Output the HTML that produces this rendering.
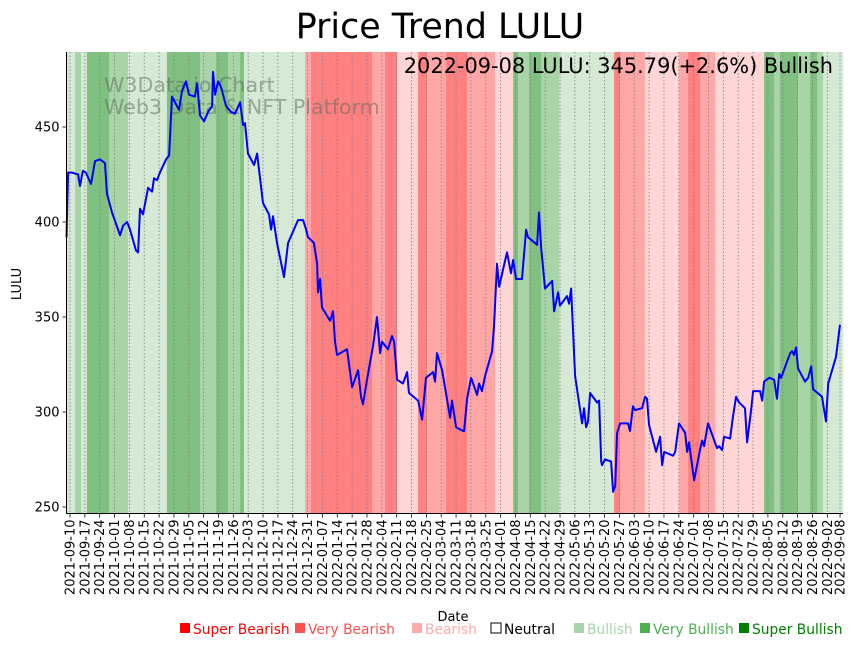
<!DOCTYPE html>
<html><head><meta charset="utf-8"><style>
body{margin:0;background:#fff;width:859px;height:646px;overflow:hidden;font-family:"Liberation Sans","DejaVu Sans",sans-serif}
svg{display:block}
</style></head><body>
<svg id="chart" width="859" height="646" viewBox="0 0 859 646" xmlns="http://www.w3.org/2000/svg" font-family="DejaVu Sans, Liberation Sans, sans-serif">
<g id="bands"></g>
<g id="grid"></g>
<g id="watermark" fill="#556655" fill-opacity="0.5" font-size="20.6">
<text x="104" y="92">W3Data.io Chart</text>
<text x="104" y="114">Web3 Data &amp; NFT Platform</text>
</g>
<path id="line" fill="none" stroke="#0000ff" stroke-width="2" stroke-linejoin="round"></path>
<g id="axes"></g>
<text x="440" y="38" text-anchor="middle" font-size="34.8">Price Trend LULU</text>
<text x="833" y="73" text-anchor="end" font-size="20.9">2022-09-08 LULU: 345.79(+2.6%) Bullish</text>
<text transform="translate(21,284) rotate(-90)" text-anchor="middle" font-size="13">LULU</text>
<text x="453" y="621" text-anchor="middle" font-size="13">Date</text>
<g id="legend" font-size="13.8"></g>
</svg>
<script>
// price series: day offset from 2021-09-10, price
const days=[-1.9,-0.9,0.9,3.8,4.7,6.1,7.5,9.9,11.8,14.1,16.5,17.4,19.8,23.6,25.0,26.9,28.3,31.1,32.1,33.0,34.4,36.8,38.7,39.6,41.0,42.4,45.3,46.7,48.1,51.4,52.8,54.7,56.1,58.9,59.9,61.3,63.2,65.1,67.0,67.4,68.4,69.8,71.2,73.6,75.9,77.8,80.2,81.6,82.5,83.9,86.8,88.2,91.0,93.8,94.8,95.7,97.6,100.9,102.8,107.5,109.9,111.3,112.2,115.0,116.5,116.9,117.9,118.8,122.6,124.0,124.9,125.9,130.6,133.0,135.8,137.2,138.1,140.0,142.9,144.7,146.2,147.1,149.9,151.8,152.8,154.2,157.0,158.9,159.8,164.1,166.0,167.8,171.1,172.1,173.0,175.4,179.2,180.1,182.0,185.3,185.8,187.2,189.1,191.9,192.8,194.2,195.7,199.0,199.9,201.3,202.3,206.0,207.9,208.9,210.3,213.1,215.0,215.9,220.2,221.1,222.1,223.9,227.3,228.2,230.1,231.0,234.3,235.3,236.2,238.1,241.4,242.3,243.3,244.2,245.2,248.5,249.4,250.4,250.8,252.2,255.1,256.0,257.0,257.9,259.3,263.1,264.0,265.4,266.4,269.7,271.1,272.0,273.0,276.3,278.2,279.1,280.1,284.3,285.3,287.1,290.0,290.9,291.8,294.2,297.0,298.0,298.9,300.3,300.8,305.0,306.0,307.4,308.3,311.2,312.6,314.0,315.4,318.2,319.2,321.1,322.0,325.3,326.3,327.2,329.6,331.9,333.3,334.3,335.2,339.5,340.4,341.3,342.3,343.2,346.5,348.0,349.4,350.3,354.5,356.4,357.4,361.1,363.0];
const prices=[392,426,426,425,419,427,426,420,432,433,431,415,405,393,398,400,396,385,384,407,404,418,416,423,422,426,433,435,466,459,469,474,467,466,473,456,453,458,461,479,467,474,471,461,458,457,463,451,452,436,430,436,410,404,396,403,389,371,389,401,401,396,392,389,378,363,370,355,348,353,337,330,333,313,322,308,304,317,335,350,331,337,333,340,337,317,315,321,310,306,296,318,321,316,331,322,297,306,292,290,290,307,318,309,315,311,319,332,345,378,366,384,373,380,370,370,396,392,388,405,387,365,369,353,363,356,361,357,365,319,294,302,292,295,310,305,306,274,272,275,274,258,261,289,294,294,290,303,301,302,308,307,293,279,287,272,279,277,279,294,289,279,284,264,280,285,282,291,294,281,282,280,287,286,298,308,305,302,284,301,311,311,306,316,318,317,307,320,318,331,332,330,334,323,316,318,324,312,308,295,315,329,346];
// sentiment bands: boundaries (day offsets) and level per band
const bandEdges=[-1.9,2.4,5.2,8.0,18.4,27.3,45.7,61.3,68.8,74.5,80.2,82.0,110.8,113.6,142.4,148.5,154.2,164.1,168.3,177.3,187.2,200.4,208.9,211.2,216.4,222.1,230.6,256.5,259.3,271.1,287.1,291.4,297.0,304.1,327.2,331.9,334.7,343.2,348.9,352.2,355.0,364.4];
const bandLevels=[1,2,1,3,2,1,3,2,3,2,3,1,-2,-3,-2,-3,-1,-3,-2,-3,-2,-1,3,2,3,2,1,-3,-2,-1,-2,-3,-2,-1,3,2,3,2,3,2,1];
const yTicks=[250,300,350,400,450];
const startDate=new Date(Date.UTC(2021,8,10));
const tickDays=[];for(let d=0;d<=357;d+=7)tickDays.push(d);tickDays.push(363);
const legendLabels=["Super Bearish","Very Bearish","Bearish","Neutral","Bullish","Very Bullish","Super Bullish"];

const NS="http://www.w3.org/2000/svg";
const X0=66.5,X1=843,Y0=52,Y1=513.5;
const xs=d=>70+d*2.1213;
const ys=p=>507-(p-250)*1.9;
function mk(tag,attrs,parent){const e=document.createElementNS(NS,tag);for(const k in attrs)e.setAttribute(k,attrs[k]);parent.appendChild(e);return e;}
const bandColor={"3":"#80c080","2":"#a9d4a8","1":"#d5e9d4","-1":"#ffd5d5","-2":"#ffa6a6","-3":"#ff8080"};
const bands=document.getElementById('bands');
for(let i=0;i<bandLevels.length;i++){
 const a=Math.max(X0,xs(bandEdges[i])),b=Math.min(X1,xs(bandEdges[i+1]));
 const r=mk('rect',{x:a,y:Y0,width:Math.max(0,b-a+0.3),height:Y1-Y0,fill:bandColor[bandLevels[i]]},bands);
 
 
}
const grid=document.getElementById('grid'),axes=document.getElementById('axes');
tickDays.forEach(d=>{
 const x=xs(d);
 const g=mk('line',{x1:x,x2:x,y1:Y0,y2:Y1,stroke:'#808080','stroke-width':0.8,'stroke-dasharray':'1.5,2'},grid);
 
 
 mk('line',{x1:x,x2:x,y1:Y1,y2:Y1+4,stroke:'#000','stroke-width':0.8},axes);
 const dt=new Date(startDate.getTime()+d*86400000);
 const lab=dt.toISOString().slice(0,10);
 const t=mk('text',{transform:`translate(${x+4.5},${Y1+6}) rotate(-90)`,'text-anchor':'end','font-size':13},axes);
 t.textContent=lab;
 
 
});
yTicks.forEach(v=>{
 const y=ys(v);
 mk('line',{x1:X0-4,x2:X0,y1:y,y2:y,stroke:'#000','stroke-width':0.8},axes);
 const t=mk('text',{x:X0-7,y:y+4.5,'text-anchor':'end','font-size':13},axes);
 t.textContent=v;
 
 
});
mk('line',{x1:X0,x2:X0,y1:Y0,y2:Y1,stroke:'#000','stroke-width':1},axes);
mk('line',{x1:X0,x2:X1,y1:Y1,y2:Y1,stroke:'#000','stroke-width':1},axes);
let dstr='';
for(let i=0;i<days.length;i++){dstr+=(i?'L':'M')+Math.max(X0,xs(days[i])).toFixed(1)+','+ys(prices[i]).toFixed(1);}
document.getElementById('line').setAttribute('d',dstr);
const legend=document.getElementById('legend');
const legCols=["#ff0000","#ff5050","#ffaaaa","#000000","#a8d5a8","#4caf50","#008000"];
const legX=[180,295,412,491,574,640,739];
legendLabels.forEach((l,i)=>{
 const sq=mk('rect',{x:legX[i],y:623,width:10,height:10,fill:i===3?'#fff':legCols[i],stroke:i===3?'#000':'none','stroke-width':1},legend);
 
 
 const t=mk('text',{x:legX[i]+13,y:634,fill:legCols[i]},legend);
 t.textContent=l;
 
 
});
</script>
</body></html>
